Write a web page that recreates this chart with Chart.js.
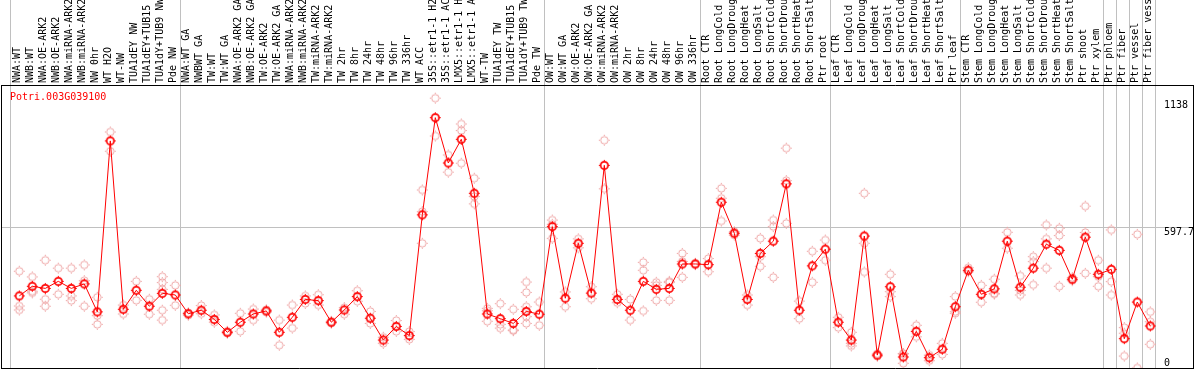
<!DOCTYPE html>
<html lang="en">
<head>
<meta charset="UTF-8" />
<title>Potri.003G039100</title>
<script src="https://cdn.jsdelivr.net/npm/chart.js@4.4.1/dist/chart.umd.min.js"></script>
<style>
  body { margin: 0; background: #fff; }
  #wrap { position: relative; width: 1194px; height: 370px; }
  #gene { position: absolute; left: 10px; top: 91px; font: 10px "DejaVu Sans Mono", monospace; line-height: 12px; color: #ff0000; }
</style>
</head>
<body>
<div id="wrap">
  <canvas id="myChart"></canvas>
  <div id="gene">Potri.003G039100</div>
</div>
<script>
const labels = [
  "NWA:WT", "NWB:WT", "NWA:OE-ARK2", "NWB:OE-ARK2", "NWA:miRNA-ARK2", "NWB:miRNA-ARK2",
  "NW 0hr", "WT H2O", "WT-NW", "TUA1dEY NW", "TUA1dEY+TUB15", "TUA1dY+TUB9 NW", "Pde NW",
  "NWA:WT GA", "NWBWT GA", "TW:WT", "TW:WT GA", "NWA:OE-ARK2 GA", "NWB:OE-ARK2 GA",
  "TW:OE-ARK2", "TW:OE-ARK2 GA", "NWA:miRNA-ARK2", "NWB:miRNA-ARK2", "TW:miRNA-ARK2", "TW:miRNA-ARK2",
  "TW 2hr", "TW 8hr", "TW 24hr", "TW 48hr", "TW 96hr", "TW 336hr", "WT ACC",
  "35S::etr1-1 H2O", "35S::etr1-1 ACC", "LMX5::etr1-1 H2O", "LMX5::etr1-1 ACC",
  "WT-TW", "TUA1dEY TW", "TUA1dEY+TUB15", "TUA1dY+TUB9 TW", "Pde TW",
  "OW:WT", "OW:WT GA", "OW:OE-ARK2", "OW:OE-ARK2 GA", "OW:miRNA-ARK2", "OW:miRNA-ARK2",
  "OW 2hr", "OW 8hr", "OW 24hr", "OW 48hr", "OW 96hr", "OW 336hr",
  "Root CTR", "Root LongCold", "Root LongDrought", "Root LongHeat", "Root LongSalt",
  "Root ShortCold", "Root ShortDrought", "Root ShortHeat", "Root ShortSalt", "Ptr root",
  "Leaf CTR", "Leaf LongCold", "Leaf LongDrought", "Leaf LongHeat", "Leaf LongSalt",
  "Leaf ShortCold", "Leaf ShortDrought", "Leaf ShortHeat", "Leaf ShortSalt", "Ptr leaf",
  "Stem CTR", "Stem LongCold", "Stem LongDrought", "Stem LongHeat", "Stem LongSalt",
  "Stem ShortCold", "Stem ShortDrought", "Stem ShortHeat", "Stem ShortSalt", "Ptr shoot",
  "Ptr xylem", "Ptr phloem", "Ptr fiber", "Ptr vessel", "Ptr fiber vessel"
];

const means = [
  307, 348, 339, 369, 339, 358, 239, 967, 250, 331, 263, 318, 311,
  231, 246, 207, 152, 195, 230, 243, 152, 216, 292, 287, 195, 247, 304, 212, 119, 177, 138,
  652, 1066, 873, 974, 744, 230, 210, 190, 241, 229,
  602, 297, 531, 319, 863, 292, 246, 369, 335, 339, 443, 443,
  440, 706, 574, 292, 488, 540, 784, 246, 435, 506,
  195, 119, 562, 55, 346, 47, 156, 44, 80, 261,
  416, 314, 337, 540, 344, 425, 527, 501, 378, 557, 399,
  420, 125, 281, 179
];

const reps = [
  [412, 264, 247], [388, 327, 320], [459, 293, 263], [425, 314], [425, 307, 287], [439, 372, 263],
  [301, 223, 186], [1005, 923], [268, 230], [369, 288], [293, 229], [389, 364, 335, 246, 204], [352, 267],
  [235, 225], [266, 231], [226, 195], [148, 156], [233, 156], [251, 204], [238, 248], [204, 97],
  [268, 170], [307, 275], [312, 268], [199, 191], [257, 229], [329, 284], [241, 190], [131, 105],
  [202, 156], [155, 122], [758, 666, 531], [1149, 988], [907, 834], [1039, 1011, 872], [808, 730, 699],
  [254, 244, 199], [274, 170, 186], [250, 159, 162], [366, 322, 261, 219, 190], [281, 182],
  [630, 612, 552], [324, 261], [550, 512], [346, 295], [970, 763], [314, 278], [292, 204],
  [450, 416, 243], [365, 352, 288], [369, 364, 288], [488, 454, 386], [446, 440],
  [466, 410], [765, 723, 626], [580, 566], [311, 268], [552, 474, 433], [630, 602, 386],
  [936, 798, 616], [285, 210], [497, 365], [545, 459],
  [216, 172], [152, 105, 94], [744, 531, 409], [50, 60], [399, 325, 304], [62, 20, 60],
  [182, 133], [55, 31], [105, 58], [304, 240, 233],
  [427, 410], [352, 280], [378, 315, 318], [578, 510], [392, 311, 330], [474, 453, 354],
  [609, 550, 425], [595, 564, 348], [385, 372], [689, 577, 403], [459, 389, 348],
  [588, 368, 311], [172, 148, 51], [569, 0], [239, 197, 101]
];

// group separators sit between categories
const groupLines = [-0.66, 12.385, 40.385, 52.385, 62.385, 72.385, 83.385, 84.385, 85.385, 86.385, 87.385];
const yTicks = [0, 597.7, 1138];

const FONT = "DejaVu Sans Mono";
const GRID = "#c0c0c0";
const NONE = "rgba(0,0,0,0)";
const X_MIN = -1.408, X_MAX = 90.285;

// ring with tiny ticks at N/E/S/W
function marker(color, lw) {
  const c = document.createElement("canvas");
  c.width = 13; c.height = 13;
  const g = c.getContext("2d");
  g.strokeStyle = color;
  g.lineWidth = lw;
  g.beginPath();
  g.arc(6.5, 6.5, 3.7, 0, Math.PI * 2);
  g.stroke();
  g.fillStyle = color;
  g.fillRect(6, 1, 1, 1);
  g.fillRect(6, 11, 1, 1);
  g.fillRect(1, 6, 1, 1);
  g.fillRect(11, 6, 1, 1);
  return c;
}
const meanMark = marker("#ff0000", 1.7);
const repMark = marker("#eea4a4", 1);

const meanPts = means.map((v, i) => ({ x: i, y: v }));
const repPts = [];
reps.forEach((r, i) => r.forEach(v => repPts.push({ x: i, y: v })));

// no extra side padding from rotated labels
function noPad(s) {
  s.paddingLeft = 0; s.paddingRight = 0; s.paddingTop = 0; s.paddingBottom = 0;
}

const ctx = document.getElementById("myChart");
new Chart(ctx, {
  type: "line",
  data: {
    datasets: [
      {
        label: "mean",
        data: meanPts,
        borderColor: "#ff0000",
        borderWidth: 1,
        pointStyle: meanMark,
        pointRadius: 5,
        xAxisID: "x",
        yAxisID: "y",
      },
      {
        label: "replicates",
        data: repPts,
        showLine: false,
        pointStyle: repMark,
        pointRadius: 5,
        xAxisID: "x",
        yAxisID: "y",
      },
    ],
  },
  options: {
    responsive: true,
    maintainAspectRatio: false,
    animation: false,
    layout: { autoPadding: false, padding: { left: 1, right: 1, top: 0, bottom: 2 } },
    plugins: {
      legend: { display: false },
      tooltip: { enabled: false },
    },
    scales: {
      x: {
        type: "linear",
        position: "top",
        min: X_MIN,
        max: X_MAX,
        afterBuildTicks: (s) => {
          s.ticks = labels.map((_, i) => ({ value: i })).concat(groupLines.map((v) => ({ value: v })));
        },
        afterFit: (s) => { s.height = 85; noPad(s); },
        ticks: {
          autoSkip: false,
          minRotation: 90,
          maxRotation: 90,
          padding: -83,
          labelOffset: 10,
          color: "#000",
          font: { family: FONT, size: 10 },
          callback: (v) => (Number.isInteger(v) ? labels[v] : ""),
        },
        grid: {
          tickLength: 85,
          color: (c) => (c.tick && !Number.isInteger(c.tick.value) ? GRID : NONE),
        },
        border: { color: "#000" },
      },
      x2: {
        type: "linear",
        position: "bottom",
        min: X_MIN,
        max: X_MAX,
        afterFit: (s) => { s.height = 0; noPad(s); },
        ticks: { display: false },
        grid: { drawTicks: false, color: NONE },
        border: { color: "#000" },
      },
      y: {
        type: "linear",
        position: "right",
        min: 0,
        max: 1205,
        afterBuildTicks: (s) => { s.ticks = yTicks.map((v) => ({ value: v })); },
        afterFit: (s) => { s.width = 0; noPad(s); },
        ticks: {
          mirror: true,
          crossAlign: "far",
          padding: 1,
          color: "#000",
          font: { family: FONT, size: 10, lineHeight: 0.92 },
          callback: (v) => (v === 0 ? ["0", ""] : ["", String(v)]),
        },
        grid: {
          drawTicks: false,
          color: (c) => (c.tick && c.tick.value === 597.7 ? GRID : NONE),
        },
        border: { color: "#000" },
      },
      y2: {
        type: "linear",
        position: "left",
        min: 0,
        max: 1,
        afterFit: (s) => { s.width = 0; noPad(s); },
        ticks: { display: false },
        grid: { drawTicks: false, color: NONE },
        border: { color: "#000" },
      },
    },
  },
});
</script>
</body>
</html>
